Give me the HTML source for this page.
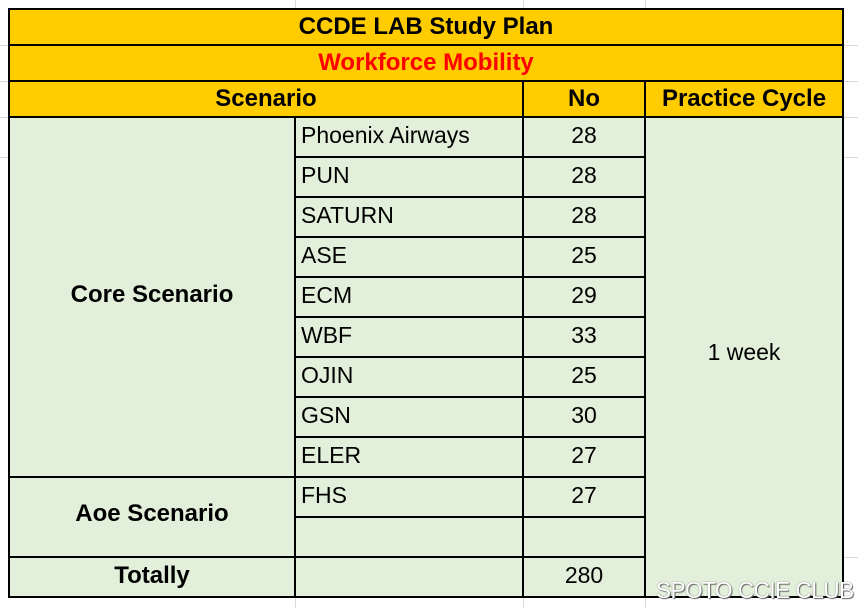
<!DOCTYPE html>
<html><head><meta charset="utf-8"><style>
body{margin:0;width:858px;height:608px;background:#fff;position:relative;overflow:hidden;font-family:"Liberation Sans",sans-serif;}
.g{position:absolute;background:#d9d9d9;}
.c{position:absolute;box-sizing:border-box;display:flex;align-items:center;font-size:23px;color:#000;}
.y{background:#ffcc00;}
.gr{background:#e2efda;}
.b{font-weight:bold;font-size:24px;}
.ctr{justify-content:center;}
.h{position:absolute;background:#000;}
</style></head><body>
<div class="g" style="left:295px;top:0;width:1px;height:9px"></div>
<div class="g" style="left:523px;top:0;width:1px;height:9px"></div>
<div class="g" style="left:645px;top:0;width:1px;height:9px"></div>
<div class="g" style="left:295px;top:597px;width:1px;height:11px"></div>
<div class="g" style="left:523px;top:597px;width:1px;height:11px"></div>
<div class="g" style="left:645px;top:597px;width:1px;height:11px"></div>
<div class="g" style="left:0;top:45px;width:9px;height:1px"></div>
<div class="g" style="left:0;top:81px;width:9px;height:1px"></div>
<div class="g" style="left:0;top:117px;width:9px;height:1px"></div>
<div class="g" style="left:0;top:157px;width:9px;height:1px"></div>
<div class="g" style="left:843px;top:45px;width:15px;height:1px"></div>
<div class="g" style="left:843px;top:81px;width:15px;height:1px"></div>
<div class="g" style="left:843px;top:117px;width:15px;height:1px"></div>
<div class="g" style="left:843px;top:157px;width:15px;height:1px"></div>
<div class="g" style="left:843px;top:557px;width:15px;height:1px"></div>

<div class="c y b ctr" style="left:9px;top:9px;width:834px;height:35px">CCDE LAB Study Plan</div>
<div class="c y b ctr" style="left:9px;top:45px;width:834px;height:35px;color:#ff0000">Workforce Mobility</div>
<div class="c y b ctr" style="left:9px;top:81px;width:514px;height:35px">Scenario</div>
<div class="c y b ctr" style="left:523px;top:81px;width:122px;height:35px">No</div>
<div class="c y b ctr" style="left:645px;top:81px;width:198px;height:35px">Practice Cycle</div>
<div class="c gr" style="left:9px;top:117px;width:834px;height:480px"></div>

<div class="c b ctr" style="left:9px;top:117px;width:286px;height:356px">Core Scenario</div>
<div class="c b ctr" style="left:9px;top:477px;width:286px;height:74px">Aoe Scenario</div>
<div class="c b ctr" style="left:9px;top:557px;width:286px;height:38px">Totally</div>
<div class="c ctr" style="left:645px;top:117px;width:198px;height:470px">1 week</div>

<div class="c" style="left:301px;top:117px;height:36px">Phoenix Airways</div>
<div class="c" style="left:301px;top:157px;height:36px">PUN</div>
<div class="c" style="left:301px;top:197px;height:36px">SATURN</div>
<div class="c" style="left:301px;top:237px;height:36px">ASE</div>
<div class="c" style="left:301px;top:277px;height:36px">ECM</div>
<div class="c" style="left:301px;top:317px;height:36px">WBF</div>
<div class="c" style="left:301px;top:357px;height:36px">OJIN</div>
<div class="c" style="left:301px;top:397px;height:36px">GSN</div>
<div class="c" style="left:301px;top:437px;height:36px">ELER</div>
<div class="c" style="left:301px;top:477px;height:36px">FHS</div>

<div class="c ctr" style="left:523px;top:117px;width:122px;height:36px">28</div>
<div class="c ctr" style="left:523px;top:157px;width:122px;height:36px">28</div>
<div class="c ctr" style="left:523px;top:197px;width:122px;height:36px">28</div>
<div class="c ctr" style="left:523px;top:237px;width:122px;height:36px">25</div>
<div class="c ctr" style="left:523px;top:277px;width:122px;height:36px">29</div>
<div class="c ctr" style="left:523px;top:317px;width:122px;height:36px">33</div>
<div class="c ctr" style="left:523px;top:357px;width:122px;height:36px">25</div>
<div class="c ctr" style="left:523px;top:397px;width:122px;height:36px">30</div>
<div class="c ctr" style="left:523px;top:437px;width:122px;height:36px">27</div>
<div class="c ctr" style="left:523px;top:477px;width:122px;height:36px">27</div>
<div class="c ctr" style="left:523px;top:557px;width:122px;height:36px">280</div>

<!-- borders -->
<div class="h" style="left:8px;top:8px;width:836px;height:2px"></div>
<div class="h" style="left:8px;top:44px;width:836px;height:2px"></div>
<div class="h" style="left:8px;top:80px;width:836px;height:2px"></div>
<div class="h" style="left:8px;top:116px;width:836px;height:2px"></div>
<div class="h" style="left:8px;top:596px;width:836px;height:2px"></div>
<div class="h" style="left:8px;top:8px;width:2px;height:590px"></div>
<div class="h" style="left:842px;top:8px;width:2px;height:590px"></div>
<div class="h" style="left:522px;top:80px;width:2px;height:518px"></div>
<div class="h" style="left:644px;top:80px;width:2px;height:518px"></div>
<div class="h" style="left:294px;top:116px;width:2px;height:482px"></div>
<div class="h" style="left:294px;top:156px;width:352px;height:2px"></div>
<div class="h" style="left:294px;top:196px;width:352px;height:2px"></div>
<div class="h" style="left:294px;top:236px;width:352px;height:2px"></div>
<div class="h" style="left:294px;top:276px;width:352px;height:2px"></div>
<div class="h" style="left:294px;top:316px;width:352px;height:2px"></div>
<div class="h" style="left:294px;top:356px;width:352px;height:2px"></div>
<div class="h" style="left:294px;top:396px;width:352px;height:2px"></div>
<div class="h" style="left:294px;top:436px;width:352px;height:2px"></div>
<div class="h" style="left:8px;top:476px;width:638px;height:2px"></div>
<div class="h" style="left:294px;top:516px;width:352px;height:2px"></div>
<div class="h" style="left:8px;top:556px;width:638px;height:2px"></div>

<div style="position:absolute;left:656px;top:577px;font-size:23px;color:#fff;letter-spacing:-0.5px;transform:scaleX(0.98);transform-origin:left;text-shadow:0 0 1px #555,1px 1px 1px #666;white-space:nowrap">SPOTO CCIE CLUB</div>
</body></html>
